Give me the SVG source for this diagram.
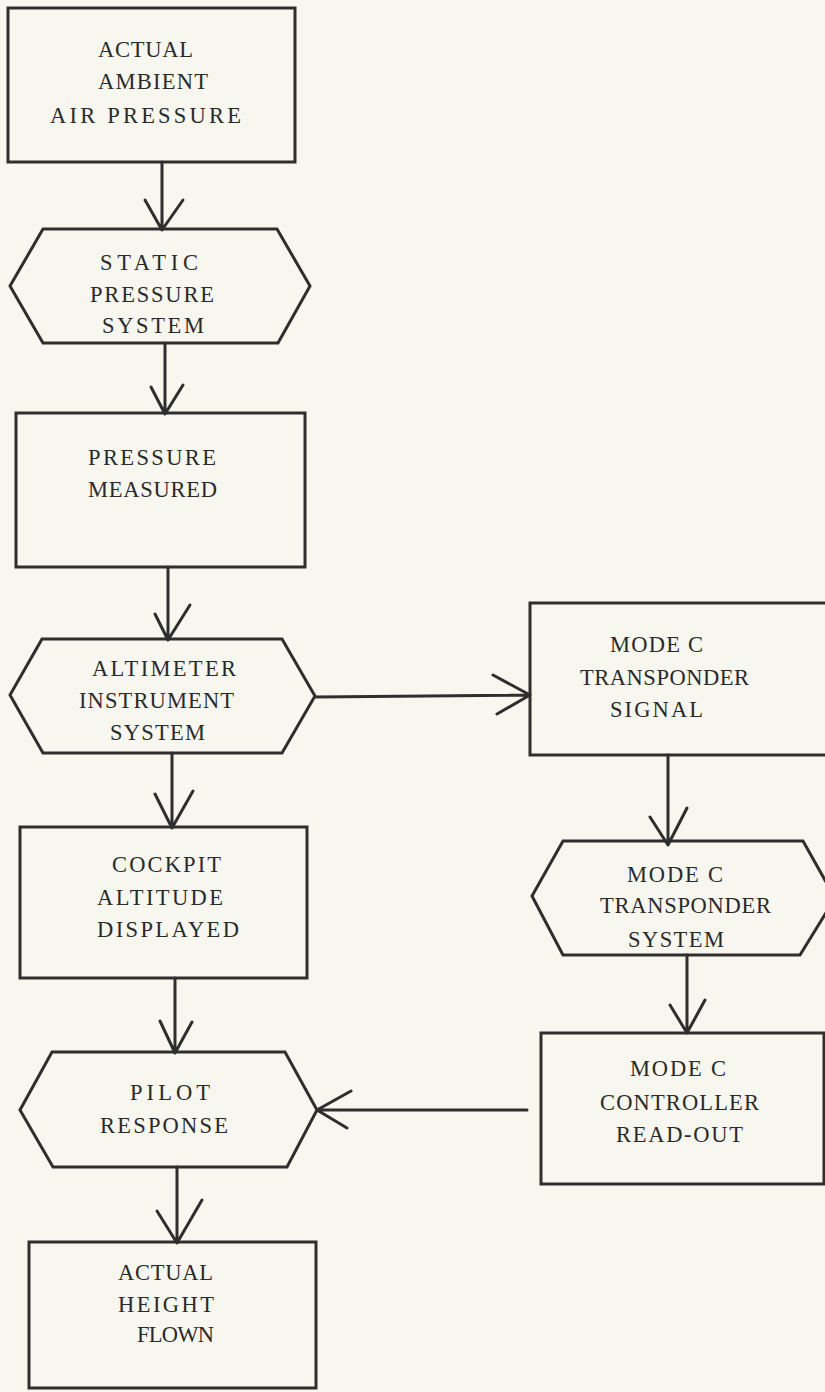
<svg xmlns="http://www.w3.org/2000/svg" width="825" height="1392" viewBox="0 0 825 1392">
<style>
.shape{fill:none;stroke:#2e2e2e;stroke-width:3;stroke-linejoin:miter}
.con{fill:none;stroke:#2e2e2e;stroke-width:3;stroke-linecap:round;stroke-linejoin:round}
text{font-family:"Liberation Serif","DejaVu Serif",serif;font-size:22.5px;fill:#2a2a2a}
</style>
<rect width="825" height="1392" fill="#f7f7f0"/>
<g id="n1">
<rect class="shape" x="8" y="8" width="287" height="154"/>
<text x="98" y="57" textLength="95" lengthAdjust="spacing">ACTUAL</text>
<text x="98" y="89" textLength="110" lengthAdjust="spacing">AMBIENT</text>
<text x="50" y="123" textLength="191" lengthAdjust="spacing">AIR PRESSURE</text>
</g>
<g id="n2">
<polygon class="shape" points="43,229 277,229 310,286 278,343 43,343 10,286"/>
<text x="100" y="270" textLength="98" lengthAdjust="spacing">STATIC</text>
<text x="90" y="302" textLength="124" lengthAdjust="spacing">PRESSURE</text>
<text x="102" y="333" textLength="102" lengthAdjust="spacing">SYSTEM</text>
</g>
<g id="n3">
<rect class="shape" x="16" y="413" width="289" height="154"/>
<text x="88" y="465" textLength="128" lengthAdjust="spacing">PRESSURE</text>
<text x="88" y="497" textLength="129" lengthAdjust="spacing">MEASURED</text>
</g>
<g id="n4">
<polygon class="shape" points="42,639 282,639 315,696 282,753 43,753 10,695"/>
<text x="92" y="676" textLength="144" lengthAdjust="spacing">ALTIMETER</text>
<text x="79" y="708" textLength="155" lengthAdjust="spacing">INSTRUMENT</text>
<text x="110" y="740" textLength="95" lengthAdjust="spacing">SYSTEM</text>
</g>
<g id="n5">
<rect class="shape" x="20" y="827" width="287" height="151"/>
<text x="112" y="872" textLength="109" lengthAdjust="spacing">COCKPIT</text>
<text x="97" y="905" textLength="126" lengthAdjust="spacing">ALTITUDE</text>
<text x="97" y="937" textLength="142" lengthAdjust="spacing">DISPLAYED</text>
</g>
<g id="n6">
<polygon class="shape" points="52,1052 285,1052 317,1110 287,1167 53,1167 20,1110"/>
<text x="130" y="1100" textLength="80" lengthAdjust="spacing">PILOT</text>
<text x="100" y="1133" textLength="128" lengthAdjust="spacing">RESPONSE</text>
</g>
<g id="n7">
<rect class="shape" x="29" y="1242" width="287" height="146"/>
<text x="118" y="1280" textLength="95" lengthAdjust="spacing">ACTUAL</text>
<text x="118" y="1312" textLength="96" lengthAdjust="spacing">HEIGHT</text>
<text x="137" y="1342" textLength="77" lengthAdjust="spacing">FLOWN</text>
</g>
<g id="n8">
<rect class="shape" x="530" y="603" width="310" height="152"/>
<text x="610" y="652" textLength="93" lengthAdjust="spacing">MODE C</text>
<text x="580" y="685" textLength="169" lengthAdjust="spacing">TRANSPONDER</text>
<text x="610" y="717" textLength="93" lengthAdjust="spacing">SIGNAL</text>
</g>
<g id="n9">
<polygon class="shape" points="563,841 803,841 835,898 800,955 563,955 532,896"/>
<text x="627" y="882" textLength="96" lengthAdjust="spacing">MODE C</text>
<text x="600" y="913" textLength="171" lengthAdjust="spacing">TRANSPONDER</text>
<text x="628" y="947" textLength="96" lengthAdjust="spacing">SYSTEM</text>
</g>
<g id="n10">
<rect class="shape" x="541" y="1033" width="283" height="151"/>
<text x="630" y="1076" textLength="96" lengthAdjust="spacing">MODE C</text>
<text x="600" y="1110" textLength="159" lengthAdjust="spacing">CONTROLLER</text>
<text x="616" y="1142" textLength="127" lengthAdjust="spacing">READ-OUT</text>
</g>
<g id="connectors">
<path class="con" d="M162,162 V229 M145,200 L162,230 L183,200"/>
<path class="con" d="M165,343 V413 M151,387 L165,414 L183,385"/>
<path class="con" d="M168,567 V639 M155,614 L168,640 L190,605"/>
<path class="con" d="M172,753 V827 M155,794 L172,828 L193,791"/>
<path class="con" d="M175,978 V1052 M160,1021 L175,1053 L192,1022"/>
<path class="con" d="M177,1167 V1242 M157,1211 L177,1243 L202,1200"/>
<path class="con" d="M316,697 L530,695 M493,675 L530,695 L497,714"/>
<path class="con" d="M668,755 V843 M650,817 L668,845 L687,808"/>
<path class="con" d="M687,955 V1032 M670,1005 L687,1033 L705,1000"/>
<path class="con" d="M527,1110 H317 M351,1091 L317,1110 L347,1128"/>
</g>
</svg>
